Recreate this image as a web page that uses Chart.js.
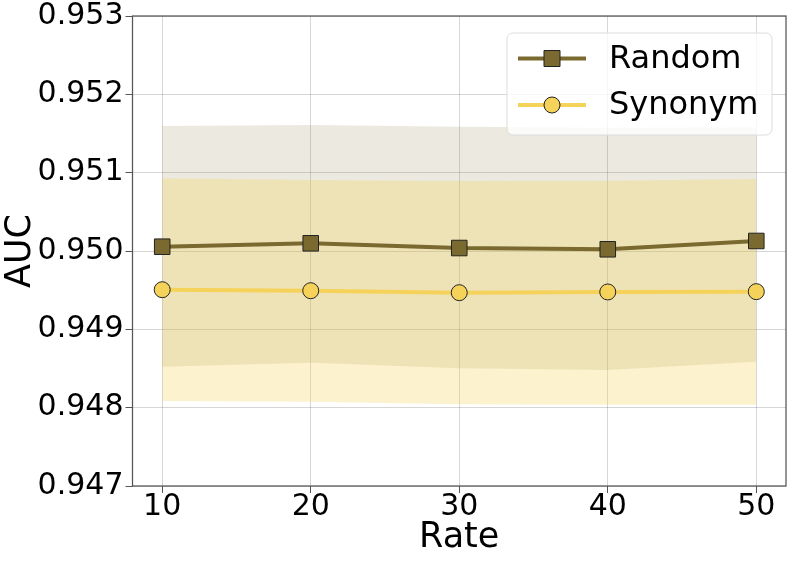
<!DOCTYPE html>
<html><head><meta charset="utf-8">
<script src="https://cdn.jsdelivr.net/npm/chart.js@4/dist/chart.umd.min.js"></script>
<style>html,body{margin:0;padding:0;background:#fff;}#wrap{width:793px;height:563px;}</style>
</head><body><div id="wrap"><canvas id="c" width="793" height="563"></canvas></div>
<script>
const rates = [10, 20, 30, 40, 50];
const randomMean  = [0.950055, 0.950098, 0.950038, 0.950022, 0.950128];
const randomUpper = [0.951596, 0.951608, 0.951587, 0.951574, 0.951579];
const randomLower = [0.948523, 0.948574, 0.948503, 0.948481, 0.948587];
const synonymMean  = [0.949506, 0.949493, 0.949468, 0.949477, 0.949481];
const synonymUpper = [0.950928, 0.950906, 0.950894, 0.950897, 0.950919];
const synonymLower = [0.948085, 0.948076, 0.948043, 0.948038, 0.948038];
const xTicks = [10, 20, 30, 40, 50];
const yTicks = [0.947, 0.948, 0.949, 0.950, 0.951, 0.952, 0.953];
const seriesNames = ['Random', 'Synonym'];

const RAND_COLOR = '#7a6a2f';
const SYN_COLOR = '#f5d35b';
const FONT = 'DejaVu Sans';
Chart.defaults.font.family = FONT;

const pts = arr => rates.map((r, i) => ({x: r, y: arr[i]}));

const frameAndLegend = {
  id: 'frameAndLegend',
  afterDraw(chart) {
    const ctx = chart.ctx, a = chart.chartArea;
    ctx.save();
    ctx.strokeStyle = '#555';
    ctx.lineWidth = 1.25;
    ctx.strokeRect(a.left, a.top, a.right - a.left, a.bottom - a.top);
    // legend
    const bx = 507, by = 33, bw = 265, bh = 102, r = 6;
    ctx.beginPath();
    ctx.moveTo(bx + r, by);
    ctx.arcTo(bx + bw, by, bx + bw, by + bh, r);
    ctx.arcTo(bx + bw, by + bh, bx, by + bh, r);
    ctx.arcTo(bx, by + bh, bx, by, r);
    ctx.arcTo(bx, by, bx + bw, by, r);
    ctx.closePath();
    ctx.fillStyle = 'rgba(255,255,255,0.8)';
    ctx.fill();
    ctx.strokeStyle = '#dcdcdc';
    ctx.lineWidth = 1;
    ctx.stroke();
    const rows = [
      {name: seriesNames[0], color: RAND_COLOR, y: 58.5, shape: 'rect'},
      {name: seriesNames[1], color: SYN_COLOR, y: 105, shape: 'circle'}
    ];
    rows.forEach(rw => {
      ctx.strokeStyle = rw.color;
      ctx.lineWidth = 4;
      ctx.beginPath();
      ctx.moveTo(518, rw.y); ctx.lineTo(586, rw.y); ctx.stroke();
      ctx.fillStyle = rw.color;
      ctx.strokeStyle = '#222';
      ctx.lineWidth = 1;
      ctx.beginPath();
      if (rw.shape === 'rect') ctx.rect(552 - 8, rw.y - 8, 16, 16);
      else ctx.arc(552, rw.y, 8, 0, Math.PI * 2);
      ctx.fill(); ctx.stroke();
      ctx.fillStyle = '#000';
      ctx.font = '32px "' + FONT + '"';
      ctx.textBaseline = 'middle';
      ctx.textAlign = 'left';
      ctx.fillText(rw.name, 609, rw.y + 1);
    });
    ctx.restore();
  }
};

new Chart(document.getElementById('c'), {
  type: 'line',
  data: {
    datasets: [
      {label: seriesNames[0], data: pts(randomMean), borderColor: RAND_COLOR, borderWidth: 4,
       pointStyle: 'rect', pointRadius: 11, pointBackgroundColor: RAND_COLOR, pointBorderColor: '#222',
       pointBorderWidth: 1, fill: false, tension: 0},
      {label: seriesNames[1], data: pts(synonymMean), borderColor: SYN_COLOR, borderWidth: 4,
       pointStyle: 'circle', pointRadius: 8, pointBackgroundColor: SYN_COLOR, pointBorderColor: '#222',
       pointBorderWidth: 1, fill: false, tension: 0},
      {label: 'synUpper', data: pts(synonymUpper), borderWidth: 0, pointRadius: 0, fill: '+1',
       backgroundColor: 'rgba(245,211,91,0.3)', borderColor: 'rgba(0,0,0,0)', tension: 0},
      {label: 'synLower', data: pts(synonymLower), borderWidth: 0, pointRadius: 0, fill: false,
       borderColor: 'rgba(0,0,0,0)', tension: 0},
      {label: 'randUpper', data: pts(randomUpper), borderWidth: 0, pointRadius: 0, fill: '+1',
       backgroundColor: 'rgba(122,106,47,0.15)', borderColor: 'rgba(0,0,0,0)', tension: 0},
      {label: 'randLower', data: pts(randomLower), borderWidth: 0, pointRadius: 0, fill: false,
       borderColor: 'rgba(0,0,0,0)', tension: 0}
    ]
  },
  options: {
    responsive: false,
    devicePixelRatio: 1,
    animation: false,
    layout: {autoPadding: false, padding: {left: 0, right: 7, top: 16, bottom: 0}},
    plugins: {legend: {display: false}, tooltip: {enabled: false}, filler: {drawTime: 'beforeDatasetsDraw'}},
    scales: {
      x: {
        type: 'linear', min: 8, max: 52,
        afterBuildTicks: s => { s.ticks = xTicks.map(v => ({value: v})); },
        afterFit: s => { s.height = 77; s.paddingLeft = 0; s.paddingRight = 0; },
        grid: {color: 'rgba(0,0,0,0.16)', lineWidth: 1, tickColor: '#555', tickLength: 7},
        border: {display: false},
        ticks: {color: '#000', font: {size: 30}, padding: -4, maxRotation: 0, callback: v => String(v)},
        title: {display: true, text: 'Rate', color: '#000', font: {size: 35}, padding: {top: 0, bottom: 4}}
      },
      y: {
        type: 'linear', min: 0.947, max: 0.953,
        afterBuildTicks: s => { s.ticks = yTicks.map(v => ({value: v})); },
        afterFit: s => { s.width = 132.5; s.paddingTop = 0; s.paddingBottom = 0; },
        grid: {color: 'rgba(0,0,0,0.16)', lineWidth: 1, tickColor: '#555', tickLength: 7},
        border: {display: false},
        ticks: {color: '#000', font: {size: 30}, padding: 2, callback: v => Number(v).toFixed(3)},
        title: {display: true, text: 'AUC', color: '#000', font: {size: 35}, padding: {top: 0, bottom: 0}}
      }
    }
  },
  plugins: [frameAndLegend]
});
</script></body></html>
